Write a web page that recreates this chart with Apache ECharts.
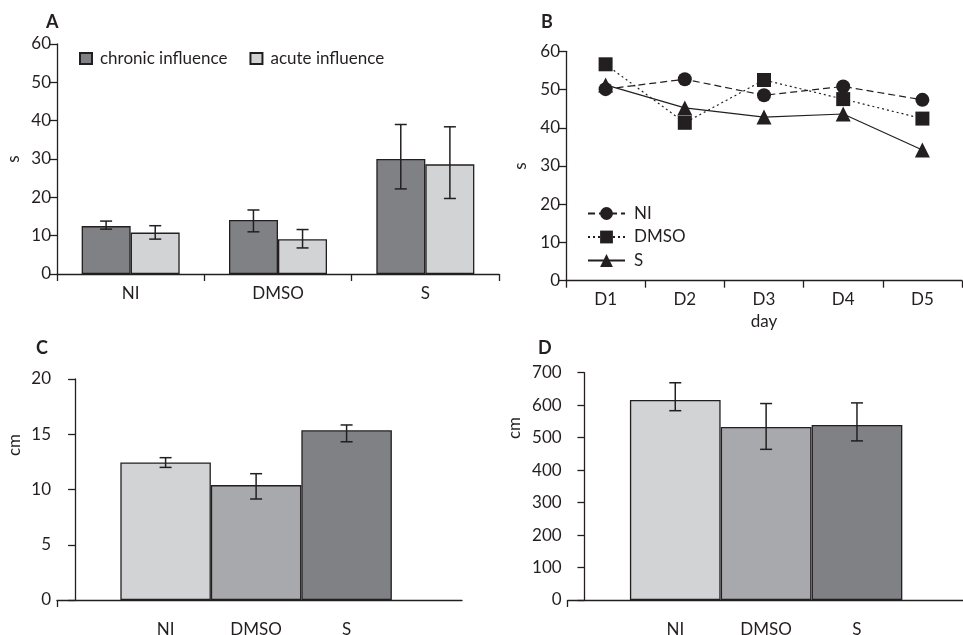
<!DOCTYPE html>
<html>
<head>
<meta charset="utf-8">
<script src="https://cdn.jsdelivr.net/npm/echarts@6/dist/echarts.min.js"></script>
<style>
html,body{margin:0;padding:0;background:#fff;}
#c{width:963px;height:635px;}
</style>
</head>
<body>
<div id="c"></div>
<script>
// ---- Panel A ----
const groupsA = ['NI', 'DMSO', 'S'];
const chronic = [12.5, 14.1, 30.0];
const chronicLow = [11.7, 11.0, 22.2];
const chronicHigh = [13.8, 16.7, 39.0];
const acute = [10.8, 9.05, 28.6];
const acuteLow = [9.1, 6.8, 19.7];
const acuteHigh = [12.6, 11.6, 38.4];

// ---- Panel B ----
const days = ['D1', 'D2', 'D3', 'D4', 'D5'];
const niB = [50.1, 52.7, 48.5, 50.8, 47.3];
const dmsoB = [56.6, 41.3, 52.5, 47.5, 42.4];
const sB = [51.2, 45.2, 42.8, 43.6, 34.2];

// ---- Panel C ----
const groupsC = ['NI', 'DMSO', 'S'];
const posC = [1, 2, 3];
const valC = [12.45, 10.4, 15.36];
const lowC = [12.0, 9.14, 14.32];
const highC = [12.88, 11.43, 15.84];

// ---- Panel D ----
const groupsD = ['NI', 'DMSO', 'S'];
const posD = [1, 2, 3];
const valD = [616, 533, 539];
const lowD = [583, 464, 490];
const highD = [669, 605, 607];

const INK = '#231f20';
const FONT = 'Lato';
const FS = 17;
const DARK = '#808184', MID = '#a7a9ac', LIGHT = '#d1d3d4';
const barColorsCD = [LIGHT, MID, DARK];

const chart = echarts.init(document.getElementById('c'));

const axisLine = {show: true, lineStyle: {color: INK, width: 1.3}};
const label = {color: INK, fontFamily: FONT, fontSize: FS};

function errRender(offsetFrac, capW) {
  return function (params, api) {
    const x = api.value(0), lo = api.value(1), hi = api.value(2);
    const p1 = api.coord([x, lo]);
    const p2 = api.coord([x, hi]);
    let off = 0;
    if (offsetFrac) off = api.size([1, 0])[0] * offsetFrac;
    const cx = p1[0] + off;
    const st = {stroke: INK, lineWidth: 1.5};
    return {
      type: 'group',
      children: [
        {type: 'line', shape: {x1: cx, y1: p1[1], x2: cx, y2: p2[1]}, style: st},
        {type: 'line', shape: {x1: cx - capW / 2, y1: p1[1], x2: cx + capW / 2, y2: p1[1]}, style: st},
        {type: 'line', shape: {x1: cx - capW / 2, y1: p2[1], x2: cx + capW / 2, y2: p2[1]}, style: st}
      ]
    };
  };
}

const option = {
  animation: false,
  backgroundColor: '#fff',
  textStyle: {fontFamily: FONT, color: INK},
  grid: [
    {left: 57, top: 44, width: 442, height: 230, outerBoundsMode: 'none', containLabel: false},
    {left: 566, top: 51.3, width: 396, height: 229.4, outerBoundsMode: 'none', containLabel: false},
    {left: 57, top: 379, width: 405, height: 221, outerBoundsMode: 'none', containLabel: false},
    {left: 567.7, top: 372.7, width: 395.3, height: 227.3, outerBoundsMode: 'none', containLabel: false}
  ],
  xAxis: [
    {gridIndex: 0, type: 'category', data: groupsA, boundaryGap: true,
      axisLine: axisLine, axisTick: {show: true, length: 7, lineStyle: {color: INK, width: 1.3}},
      axisLabel: Object.assign({margin: 11}, label), splitLine: {show: false}},
    {gridIndex: 1, type: 'category', data: days, boundaryGap: true,
      name: 'day', nameLocation: 'middle', nameGap: 32, nameTextStyle: label,
      axisLine: axisLine, axisTick: {show: true, length: 7, lineStyle: {color: INK, width: 1.3}},
      axisLabel: Object.assign({margin: 10}, label), splitLine: {show: false}},
    {gridIndex: 2, type: 'value', min: -0.2, max: 4.275,
      axisLine: axisLine,
      axisTick: {show: true, length: 7, customValues: [-0.2], lineStyle: {color: INK, width: 1.3}},
      axisLabel: Object.assign({margin: 21, customValues: posC,
        formatter: v => groupsC[posC.indexOf(Math.round(v))] || ''}, label),
      splitLine: {show: false}},
    {gridIndex: 3, type: 'value', min: -0.184, max: 4.167,
      axisLine: axisLine,
      axisTick: {show: true, length: 7, customValues: [-0.184], lineStyle: {color: INK, width: 1.3}},
      axisLabel: Object.assign({margin: 21, customValues: posD,
        formatter: v => groupsD[posD.indexOf(Math.round(v))] || ''}, label),
      splitLine: {show: false}}
  ],
  yAxis: [
    {gridIndex: 0, type: 'value', min: 0, max: 60, interval: 10,
      name: 's', nameLocation: 'middle', nameGap: 35, nameTextStyle: label,
      axisLine: axisLine, axisTick: {show: true, length: 7, lineStyle: {color: INK, width: 1.3}},
      axisLabel: Object.assign({margin: 6}, label), splitLine: {show: false}},
    {gridIndex: 1, type: 'value', min: 0, max: 60, interval: 10,
      name: 's', nameLocation: 'middle', nameGap: 37, nameTextStyle: label,
      axisLine: axisLine, axisTick: {show: true, length: 7, lineStyle: {color: INK, width: 1.3}},
      axisLabel: Object.assign({margin: 6}, label), splitLine: {show: false}},
    {gridIndex: 2, type: 'value', min: 0, max: 20, interval: 5,
      axisLine: axisLine, axisTick: {show: true, length: 7, lineStyle: {color: INK, width: 1.3}},
      axisLabel: Object.assign({margin: 6}, label), splitLine: {show: false}},
    {gridIndex: 3, type: 'value', min: 0, max: 700, interval: 100,
      axisLine: axisLine, axisTick: {show: true, length: 7, lineStyle: {color: INK, width: 1.3}},
      axisLabel: Object.assign({margin: 6}, label), splitLine: {show: false}}
  ],
  legend: [
    {left: 74, top: 45, itemWidth: 12, itemHeight: 11, itemGap: 22, icon: 'rect',
      textStyle: Object.assign({padding: [0, 0, 0, 3]}, label),
      data: ['chronic influence', 'acute influence']},
    {left: 582, top: 200, orient: 'vertical', itemWidth: 37, itemHeight: 16, itemGap: 6.5,
      textStyle: Object.assign({padding: [0, 0, 0, 4]}, label),
      data: ['NI', 'DMSO', 'S']}
  ],
  graphic: [
    {type: 'text', left: 46, top: 13, style: {text: 'A', font: 'bold 18px ' + FONT, fill: INK}},
    {type: 'text', left: 541, top: 13, style: {text: 'B', font: 'bold 18px ' + FONT, fill: INK}},
    {type: 'text', left: 36, top: 339, style: {text: 'C', font: 'bold 18px ' + FONT, fill: INK}},
    {type: 'text', left: 538, top: 339, style: {text: 'D', font: 'bold 18px ' + FONT, fill: INK}},
    {type: 'text', x: 15, y: 445, rotation: Math.PI / 2,
      style: {text: 'cm', font: FS + 'px ' + FONT, fill: INK, textAlign: 'center', textVerticalAlign: 'middle'}},
    {type: 'text', x: 515, y: 428, rotation: Math.PI / 2,
      style: {text: 'cm', font: FS + 'px ' + FONT, fill: INK, textAlign: 'center', textVerticalAlign: 'middle'}}
  ],
  series: [
    {name: 'chronic influence', type: 'bar', xAxisIndex: 0, yAxisIndex: 0, data: chronic,
      barWidth: 49, barGap: '0%',
      itemStyle: {color: DARK, borderColor: INK, borderWidth: 1.3}},
    {name: 'acute influence', type: 'bar', xAxisIndex: 0, yAxisIndex: 0, data: acute,
      barWidth: 49, barGap: '0%',
      itemStyle: {color: LIGHT, borderColor: INK, borderWidth: 1.3}},
    {type: 'custom', xAxisIndex: 0, yAxisIndex: 0, z: 5,
      renderItem: errRender(-1 / 6, 12),
      data: chronic.map((v, i) => [i, chronicLow[i], chronicHigh[i]])},
    {type: 'custom', xAxisIndex: 0, yAxisIndex: 0, z: 5,
      renderItem: errRender(1 / 6, 12),
      data: acute.map((v, i) => [i, acuteLow[i], acuteHigh[i]])},

    {name: 'NI', type: 'line', xAxisIndex: 1, yAxisIndex: 1, data: niB,
      symbol: 'circle', symbolSize: 14, color: INK,
      lineStyle: {color: INK, width: 1.2, type: [7, 4]}, itemStyle: {color: INK}},
    {name: 'DMSO', type: 'line', xAxisIndex: 1, yAxisIndex: 1, data: dmsoB,
      symbol: 'rect', symbolSize: 14, color: INK,
      lineStyle: {color: INK, width: 1.2, type: [2, 3]}, itemStyle: {color: INK}},
    {name: 'S', type: 'line', xAxisIndex: 1, yAxisIndex: 1, data: sB,
      symbol: 'triangle', symbolSize: 15, color: INK,
      lineStyle: {color: INK, width: 1.2, type: 'solid'}, itemStyle: {color: INK}},

    {type: 'bar', xAxisIndex: 2, yAxisIndex: 2, barWidth: 90.5,
      data: valC.map((v, i) => ({value: [posC[i], v], itemStyle: {color: barColorsCD[i]}})),
      itemStyle: {borderColor: INK, borderWidth: 1.3}},
    {type: 'custom', xAxisIndex: 2, yAxisIndex: 2, z: 5,
      renderItem: errRender(0, 12),
      data: valC.map((v, i) => [posC[i], lowC[i], highC[i]])},

    {type: 'bar', xAxisIndex: 3, yAxisIndex: 3, barWidth: 90.7,
      data: valD.map((v, i) => ({value: [posD[i], v], itemStyle: {color: barColorsCD[i]}})),
      itemStyle: {borderColor: INK, borderWidth: 1.3}},
    {type: 'custom', xAxisIndex: 3, yAxisIndex: 3, z: 5,
      renderItem: errRender(0, 12),
      data: valD.map((v, i) => [posD[i], lowD[i], highD[i]])}
  ]
};
chart.setOption(option);
</script>
</body>
</html>
